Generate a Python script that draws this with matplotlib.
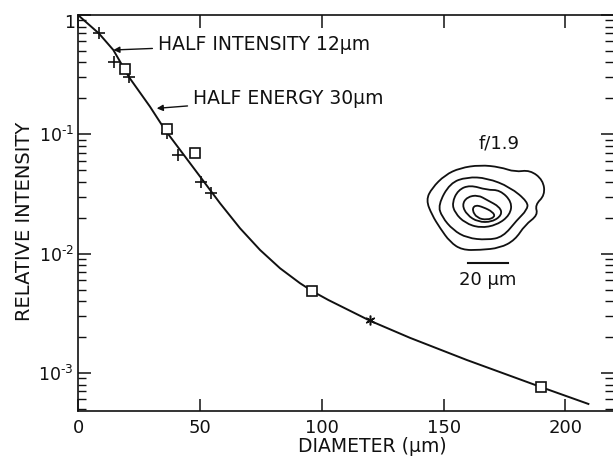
import matplotlib
matplotlib.use("Agg")
import matplotlib.pyplot as plt
from matplotlib.path import Path
from matplotlib.patches import PathPatch
from matplotlib.ticker import LogLocator, NullFormatter

# ---- data ----
curve_x = [0, 8.6, 14.5, 21, 29.5, 35.7, 41.9, 50.1, 58.3, 66.5, 74.7, 82.9, 91.1, 96.5, 102.7,
           119.8, 136.2, 159.5, 190.1, 209.4]
curve_y = [1.0, 0.70, 0.509, 0.30, 0.171, 0.109, 0.0739, 0.0442, 0.0264, 0.0163, 0.01073, 0.00754,
           0.00565, 0.0048, 0.00409, 0.00274, 0.00197, 0.001285, 7.6e-4, 5.5e-4]

cross_x = [8.6, 14.9, 21.0, 36.4, 40.9, 50.5, 54.4]
cross_y = [0.70, 0.40, 0.30, 0.102, 0.0665, 0.0395, 0.0322]

square_x = [19.3, 36.4, 48.2, 96.2, 189.9]
square_y = [0.353, 0.11, 0.0696, 0.0049, 7.66e-4]

star_x = [119.7]
star_y = [2.77e-3]

xticks = [0, 50, 100, 150, 200]
xtick_labels = ["0", "50", "100", "150", "200"]
yticks = [1e-3, 1e-2, 1e-1, 1]
ytick_labels = ["$\\mathregular{10^{\u20103}}$", "$\\mathregular{10^{\u20102}}$",
                "$\\mathregular{10^{\u20101}}$", ""]

# contour sketch of the focal spot (micrometres, relative to spot centre)
contour_outer = [(-28.5, 5), (-25.5, 11), (-19, 17.5), (-11.5, 21), (-1.5, 22.5), (8.5, 21.5),
                 (16, 19), (23.5, 20), (30, 15), (31, 7.5), (26, 2.5), (27.5, -2.5), (21, -7.5),
                 (16, -15), (8.5, -19), (-1.5, -20), (-10.5, -20), (-16.5, -16), (-21.5, -9),
                 (-25.5, -2.5)]
contour_2 = [(-22.5, 2.5), (-16.5, 13.5), (-8, 16.5), (2, 16), (13.5, 11.5), (22.5, 4),
             (22, 0), (17, -5), (10, -13.5), (2, -15), (-8, -14), (-15, -10), (-20.5, -3.5)]
contour_3 = [(-15.5, 3.5), (-12.5, 10), (-6.5, 12.5), (2, 10), (8.5, 10), (14.5, 4),
             (13.5, -2.5), (7, -7.5), (-1.5, -9), (-9, -6.5), (-14, -1.5)]
contour_4 = [(-10.5, 2.5), (-8, 6.5), (-2.5, 7.5), (2, 5), (8.5, 1.5), (9.5, -2.5),
             (4.5, -6), (-2.5, -6), (-8, -2.5)]
contour_5 = [(-5.5, 0), (-4, 2.5), (0, 1.5), (5, -1), (6, -3.5), (2, -5), (-3, -4)]
contours = [contour_outer, contour_2, contour_3, contour_4, contour_5]
scale_bar_um = 20

# ---- figure ----
W, H = 613, 457
plt.rcParams['font.family'] = ['DejaVu Sans']
fig = plt.figure(figsize=(W / 100, H / 100), dpi=100)
ax = fig.add_axes([78 / W, 1 - 411 / H, (W - 78) / W, (411 - 15) / H])
ax.set_yscale('log')
ax.set_xlim(0, 219.5)
ax.set_ylim(4.8e-4, 1)

ink = '#111111'
ax.plot(curve_x, curve_y, color=ink, lw=1.4, zorder=2)
ax.plot(cross_x, cross_y, ls='none', marker='+', ms=9, mew=1.2, color=ink, zorder=3)
ax.plot(square_x, square_y, ls='none', marker='s', ms=7, mew=1.2, mfc='white', mec=ink, zorder=4)
ax.plot(star_x, star_y, ls='none', marker=(6, 2, 0), ms=7, mew=1.1, color=ink, zorder=4)

for s in ['left', 'bottom', 'top']:
    ax.spines[s].set_linewidth(1.2)
    ax.spines[s].set_color(ink)
ax.spines['right'].set_visible(False)

ax.set_xticks(xticks)
ax.set_xticklabels(xtick_labels)
ax.set_yticks(yticks)
ax.set_yticklabels(ytick_labels)
ax.yaxis.set_minor_locator(LogLocator(base=10, subs=range(2, 10)))
ax.yaxis.set_minor_formatter(NullFormatter())
ax.tick_params(axis='both', which='major', direction='in', top=True, right=True,
               length=9, width=1.1, labelsize=13, colors=ink)
ax.tick_params(axis='x', which='major', pad=6)
ax.tick_params(axis='y', which='major', pad=3, labelsize=12.5)
ax.tick_params(axis='y', which='minor', direction='in', right=True, length=6, width=1.0, colors=ink)
ax.annotate('1', xy=(0, 1), xytext=(-2, 1), textcoords='offset points', ha='right', va='top',
            fontsize=12.5, color=ink, annotation_clip=False)

fig.text(25 / W, 1 - 221 / H, 'RELATIVE INTENSITY', rotation=90, ha='center', va='center',
         fontsize=14, color=ink)
fig.text(372 / W, 1 - 447 / H, 'DIAMETER (µm)', ha='center', va='center', fontsize=13.5, color=ink)

ax.annotate('HALF INTENSITY 12µm', xy=(14.5, 0.509), xytext=(32.8, 0.571), textcoords='data',
            ha='left', va='center', fontsize=13.5, color=ink,
            arrowprops=dict(arrowstyle='-|>', color=ink, lw=1.0, mutation_scale=9, shrinkA=2, shrinkB=0))
ax.annotate('HALF ENERGY 30µm', xy=(32.3, 0.165), xytext=(47.2, 0.2015), textcoords='data',
            ha='left', va='center', fontsize=13.5, color=ink,
            arrowprops=dict(arrowstyle='-|>', color=ink, lw=1.0, mutation_scale=9, shrinkA=2, shrinkB=0))

# ---- inset: focal-spot contours ----
cx, cy = 483, 210  # centre in figure pixels
half_w, half_h = 45, 45
ins = fig.add_axes([(cx - 2 * half_w) / W, 1 - (cy + 2 * half_h) / H, 4 * half_w / W, 4 * half_h / H])
ins.set_xlim(-half_w, half_w)
ins.set_ylim(-half_h, half_h)
ins.axis('off')


def smooth_closed(pts):
    n = len(pts)
    mids = [((pts[i][0] + pts[(i + 1) % n][0]) / 2, (pts[i][1] + pts[(i + 1) % n][1]) / 2) for i in range(n)]
    verts = [mids[-1]]
    codes = [Path.MOVETO]
    for i in range(n):
        verts += [pts[i], mids[i]]
        codes += [Path.CURVE3, Path.CURVE3]
    return Path(verts, codes)


for c in contours:
    ins.add_patch(PathPatch(smooth_closed(c), fill=False, lw=1.3, ec=ink))

ins.plot([-7.5, -7.5 + scale_bar_um], [-26.5, -26.5], color=ink, lw=1.5)
ins.text(2.5, -35, '20 µm', ha='center', va='center', fontsize=13, color=ink)
ins.text(8, 33.5, 'f/1.9', ha='center', va='center', fontsize=13, color=ink)

fig.savefig('out.png', dpi=100)
